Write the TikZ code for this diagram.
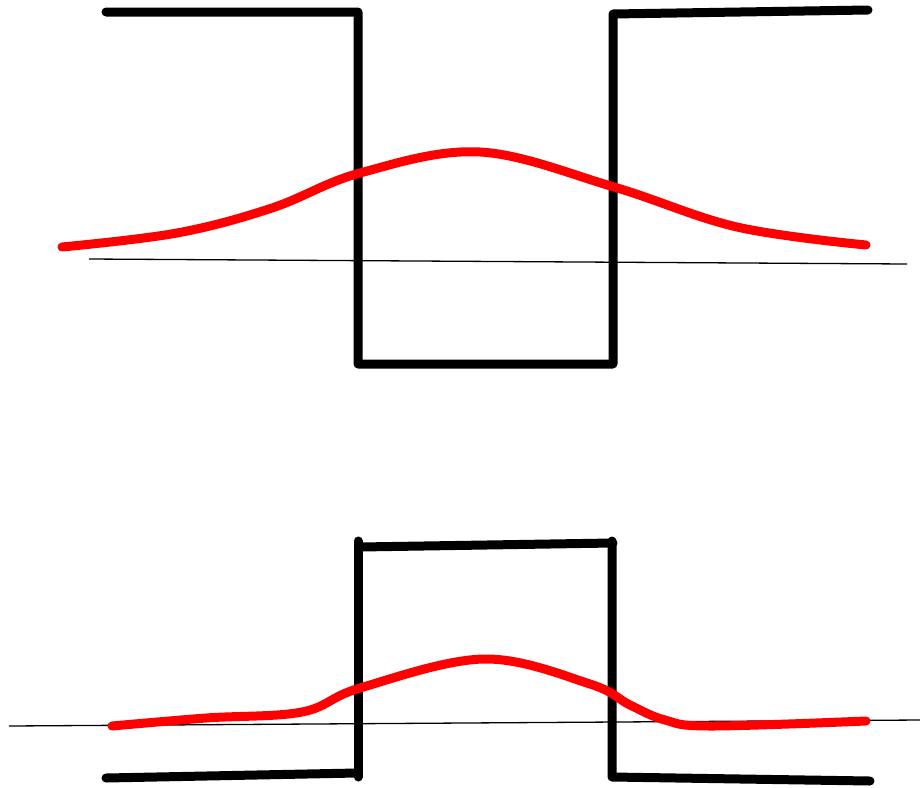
\documentclass[tikz,border=0pt]{standalone}
\usetikzlibrary{calc}

\begin{document}
\begin{tikzpicture}[
  x=1pt, y=-1pt,
  wall/.style={draw=black, line width=9pt, line cap=round, line join=round},
  wave/.style={draw=red, line width=9pt, line cap=round, line join=round},
  axisline/.style={draw=black, line width=1.3pt}
]
\useasboundingbox (0,0) rectangle (920,787);

% =============================================================
% top: well
% =============================================================
\draw[wall] (106,12) -- (358,12) -- (358,364) -- (613,364)
   -- (613,14) -- (868,10);
\draw[axisline] (89,259) -- (907,264);
\draw[wave] plot[smooth, tension=0.6] coordinates {
   (62,247) (177,233) (272,208) (360,173) (480,152)
   (614,187) (737,227) (866,245)};

% =============================================================
% bottom: barrier
% =============================================================
\draw[wall] (106,778) -- (357,773);
\draw[wall] (358,777) -- (358,541);
\draw[wall] (360,547) -- (613,543);
\draw[wall] (612,541) -- (612,777) -- (870,781);
\draw[axisline] (9,726) -- (920,720);
\draw[wave] plot[smooth, tension=0.6] coordinates {
   (112,726) (206,718) (302,712) (360,688) (484,659)
   (590,684) (630,705) (665,720) (710,726) (866,721)};

\end{tikzpicture}
\end{document}
